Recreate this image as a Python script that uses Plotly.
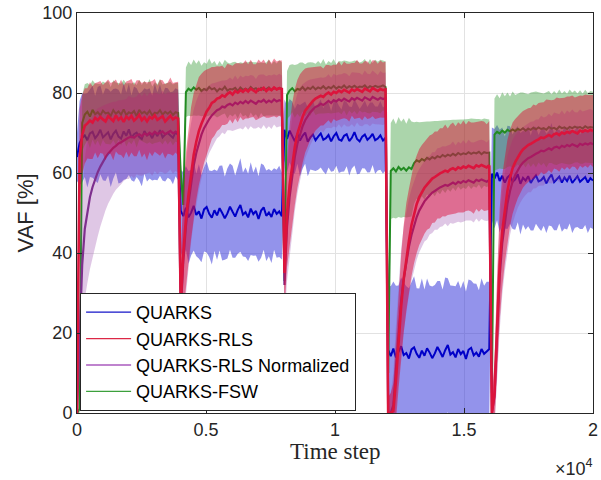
import numpy as np
import plotly.graph_objects as go

# Sampled VAF curves (every ~100 time steps), five 4000-step segments per method.
T_END = 20000
N_PER_SEG = 40

QUARKS_MEAN = [
    [64.0, 67.5, 68.8, 69.4, 68.2, 69.9, 70.3, 68.7, 69.5, 70.8,
     68.9, 69.6, 70.2, 68.4, 69.8, 70.6, 69.1, 68.6, 70.4, 69.3,
     70.9, 68.8, 69.7, 70.1, 69.0, 68.5, 70.5, 69.4, 69.9, 68.7,
     70.3, 69.2, 70.7, 68.9, 69.6, 70.0, 69.3, 68.8, 70.2, 69.5],
    [50.6, 49.2, 51.3, 48.9, 50.1, 51.8, 49.5, 50.4, 48.6, 50.9,
     51.5, 49.8, 48.8, 50.7, 49.4, 51.2, 50.0, 48.7, 49.9, 51.6,
     50.3, 49.1, 50.8, 52.0, 49.6, 50.2, 48.9, 51.1, 49.7, 50.5,
     48.5, 50.6, 51.4, 49.3, 50.1, 49.0, 51.0, 49.8, 50.4, 49.2],
    [70.8, 68.5, 70.6, 69.2, 67.9, 69.8, 68.1, 69.3, 70.1, 67.8,
     68.9, 69.6, 68.2, 69.1, 69.9, 68.3, 68.7, 69.5, 67.9, 69.2,
     70.0, 68.4, 68.1, 69.3, 69.7, 68.0, 68.8, 70.2, 68.5, 67.9,
     69.1, 69.6, 68.3, 68.9, 69.8, 68.2, 68.6, 69.4, 68.1, 68.8],
    [15.8, 14.2, 16.1, 13.9, 15.4, 16.7, 14.5, 15.0, 13.6, 15.9,
     16.4, 14.8, 13.8, 15.6, 14.3, 16.2, 15.1, 13.7, 14.9, 16.5,
     15.3, 14.0, 15.7, 17.0, 14.6, 15.2, 13.9, 16.0, 14.7, 15.5,
     13.5, 15.8, 16.3, 14.4, 15.1, 14.1, 16.0, 14.8, 15.4, 16.0],
    [59.8, 58.6, 60.1, 58.0, 59.3, 57.6, 58.9, 59.5, 57.8, 58.4,
     59.7, 57.3, 58.8, 58.1, 59.2, 57.5, 58.6, 59.4, 57.9, 58.2,
     59.0, 57.4, 58.7, 59.6, 57.7, 58.3, 59.1, 57.6, 58.9, 58.0,
     59.3, 57.5, 58.5, 59.2, 57.8, 58.4, 59.0, 57.6, 58.7, 58.1],
]
QUARKS_STD = [
    [6.0, 10.5, 11.2, 10.4, 11.8, 10.9, 11.5, 10.6, 12.0, 11.1,
     10.7, 11.6, 10.8, 11.9, 11.2, 10.5, 11.7, 11.0, 12.1, 10.8,
     11.4, 10.6, 11.9, 11.1, 10.9, 11.8, 10.7, 11.5, 11.3, 10.6,
     12.0, 11.0, 11.4, 10.8, 11.7, 11.2, 10.9, 11.6, 11.0, 11.3],
    [10.2, 11.0, 10.4, 11.6, 10.7, 11.2, 10.3, 11.8, 10.9, 10.5,
     11.4, 10.8, 11.7, 10.2, 11.1, 10.6, 11.9, 10.4, 11.3, 10.8,
     11.5, 10.3, 11.0, 11.7, 10.5, 11.2, 10.9, 11.6, 10.4, 11.1,
     10.7, 11.8, 10.6, 11.3, 10.9, 11.5, 10.2, 11.0, 11.4, 10.8],
    [7.6, 8.4, 7.9, 8.7, 8.1, 7.5, 8.9, 8.2, 7.8, 8.6,
     8.0, 8.8, 7.7, 8.3, 8.5, 7.9, 9.0, 8.1, 7.6, 8.7,
     8.2, 8.4, 7.8, 8.9, 8.0, 8.6, 7.7, 8.3, 8.8, 8.1,
     7.9, 8.5, 8.2, 8.7, 7.8, 8.4, 8.0, 8.6, 8.3, 8.1],
    [16.2, 17.5, 16.8, 17.9, 16.5, 17.2, 18.1, 16.7, 17.6, 16.9,
     17.8, 16.4, 17.3, 18.0, 16.6, 17.4, 16.8, 17.9, 17.1, 16.5,
     17.7, 16.9, 18.2, 16.7, 17.3, 16.6, 17.8, 17.0, 16.4, 17.5,
     16.9, 17.6, 16.8, 18.0, 17.2, 16.6, 17.7, 17.0, 17.4, 16.8],
    [11.6, 12.4, 11.9, 12.8, 12.1, 11.5, 12.9, 12.2, 11.8, 12.6,
     12.0, 12.7, 11.7, 12.3, 12.5, 11.9, 13.0, 12.1, 11.6, 12.7,
     12.2, 12.4, 11.8, 12.9, 12.0, 12.6, 11.7, 12.3, 12.8, 12.1,
     11.9, 12.5, 12.2, 12.7, 11.8, 12.4, 12.0, 12.6, 12.3, 12.1],
]

RLS_MEAN = [
    [0.0, 64.0, 69.5, 71.8, 72.4, 73.1, 72.6, 73.8, 73.2, 74.0,
     73.4, 72.9, 74.2, 73.6, 73.0, 74.4, 73.3, 73.9, 72.8, 74.1,
     73.5, 74.3, 73.1, 73.7, 74.5, 73.2, 73.9, 72.9, 74.0, 73.6,
     74.4, 73.3, 73.8, 74.2, 72.9, 73.7, 74.3, 73.4, 73.9, 73.6],
    [27.0, 40.0, 48.5, 54.5, 60.0, 64.5, 67.8, 70.5, 72.3, 74.0,
     75.4, 76.3, 77.5, 77.9, 78.6, 78.8, 79.4, 79.1, 79.8, 80.2,
     79.6, 80.5, 80.1, 80.7, 80.3, 80.9, 80.4, 81.1, 80.6, 80.2,
     81.0, 80.8, 81.3, 80.5, 81.1, 80.7, 81.4, 80.9, 81.2, 81.0],
    [35.0, 50.0, 57.0, 62.0, 66.5, 69.8, 72.2, 74.0, 75.6, 76.5,
     77.4, 78.0, 78.6, 78.9, 79.3, 79.0, 79.7, 80.1, 79.6, 80.3,
     80.0, 80.6, 80.2, 80.8, 80.4, 80.1, 80.9, 80.5, 81.0, 80.6,
     80.3, 81.1, 80.7, 80.4, 81.2, 80.8, 80.5, 81.0, 80.7, 80.9],
    [0.0, 0.0, 0.5, 8.0, 18.0, 26.5, 33.5, 39.0, 43.0, 47.0,
     50.0, 52.2, 54.0, 55.2, 56.3, 57.1, 57.8, 58.6, 59.0, 59.5,
     59.9, 60.2, 60.6, 60.3, 60.9, 61.2, 60.8, 61.4, 61.1, 61.6,
     61.3, 61.8, 61.5, 61.2, 61.9, 61.6, 62.0, 61.7, 61.4, 61.9],
    [0.0, 5.0, 22.0, 37.0, 45.5, 51.0, 55.5, 58.8, 61.2, 62.7,
     64.0, 65.0, 65.9, 66.5, 67.0, 67.3, 67.8, 68.1, 68.4, 68.9,
     68.7, 69.2, 69.5, 69.1, 69.7, 69.9, 69.5, 70.1, 69.8, 70.3,
     70.0, 70.5, 70.2, 69.9, 70.6, 70.3, 70.7, 70.4, 70.8, 70.5],
]
RLS_STD = [
    [2.0, 12.0, 10.0, 9.4, 8.8, 9.6, 9.1, 8.7, 9.5, 9.0,
     8.6, 9.7, 9.2, 8.9, 9.8, 9.0, 8.7, 9.4, 9.1, 8.8,
     9.6, 9.2, 8.9, 9.5, 8.7, 9.3, 9.0, 9.7, 8.8, 9.4,
     9.1, 8.6, 9.5, 9.0, 9.3, 8.9, 9.6, 9.1, 8.8, 9.2],
    [12.0, 15.0, 16.5, 17.0, 16.5, 15.5, 14.5, 13.5, 12.5, 11.5,
     10.5, 9.8, 9.0, 8.6, 8.1, 7.8, 7.4, 7.1, 7.5, 6.8,
     7.2, 6.9, 7.4, 6.7, 7.1, 7.3, 6.8, 7.2, 6.6, 7.0,
     7.4, 6.9, 7.1, 6.7, 7.3, 6.8, 7.2, 7.0, 6.9, 7.1],
    [10.0, 13.5, 15.0, 15.5, 14.5, 13.5, 12.5, 11.5, 10.5, 9.8,
     9.0, 8.5, 8.0, 7.7, 7.4, 7.1, 7.3, 6.9, 7.2, 6.8,
     7.0, 7.3, 6.7, 7.1, 6.9, 7.2, 6.6, 7.0, 7.3, 6.8,
     7.1, 6.9, 7.2, 6.7, 7.0, 7.3, 6.8, 7.1, 6.9, 7.0],
    [4.0, 5.0, 7.0, 10.0, 12.0, 13.0, 13.5, 13.5, 13.0, 12.8,
     12.5, 12.2, 12.0, 11.8, 11.5, 11.3, 11.6, 11.1, 11.4, 10.9,
     11.3, 11.0, 11.5, 10.8, 11.2, 11.4, 10.9, 11.3, 11.0, 11.5,
     10.8, 11.2, 11.1, 11.4, 10.9, 11.3, 11.0, 11.2, 10.8, 11.1],
    [4.0, 8.0, 12.0, 14.0, 14.0, 13.5, 12.8, 12.0, 11.4, 10.8,
     10.3, 9.9, 9.6, 9.4, 9.2, 9.0, 9.3, 8.8, 9.1, 8.7,
     9.0, 9.2, 8.8, 9.1, 8.6, 9.0, 9.2, 8.7, 9.0, 8.8,
     9.1, 8.9, 8.7, 9.2, 8.8, 9.0, 8.9, 9.1, 8.7, 9.0],
]

NORM_MEAN = [
    [0.0, 20.0, 37.0, 46.0, 50.5, 54.0, 56.5, 58.5, 60.2, 61.6,
     62.8, 63.9, 64.8, 65.6, 66.3, 66.8, 67.4, 67.7, 68.2, 68.5,
     68.9, 69.1, 68.8, 69.4, 69.7, 69.2, 69.9, 69.5, 70.1, 69.6,
     70.3, 69.8, 70.0, 70.4, 69.7, 70.2, 70.5, 69.9, 70.3, 70.1],
    [25.0, 38.0, 46.5, 52.5, 57.5, 61.8, 65.0, 67.6, 69.6, 71.2,
     72.4, 73.5, 74.4, 75.0, 75.7, 76.0, 76.6, 76.4, 77.0, 77.3,
     76.9, 77.6, 77.2, 77.8, 77.4, 78.0, 77.5, 78.1, 77.7, 77.3,
     78.0, 77.8, 78.3, 77.6, 78.1, 77.7, 78.4, 77.9, 78.2, 78.0],
    [32.0, 46.5, 54.0, 59.5, 64.0, 67.3, 69.8, 71.7, 73.2, 74.3,
     75.2, 75.9, 76.5, 76.8, 77.3, 77.0, 77.6, 78.0, 77.5, 78.2,
     77.9, 78.4, 78.0, 78.6, 78.2, 77.9, 78.7, 78.3, 78.8, 78.4,
     78.1, 78.9, 78.5, 78.2, 79.0, 78.6, 78.3, 78.8, 78.5, 78.7],
    [0.0, 0.0, 2.0, 11.0, 20.0, 28.0, 33.5, 38.0, 41.5, 44.5,
     47.0, 49.0, 50.6, 51.8, 52.9, 53.7, 54.4, 55.1, 55.5, 56.0,
     56.4, 56.7, 57.0, 56.8, 57.3, 57.6, 57.2, 57.8, 57.5, 58.0,
     57.7, 58.2, 57.9, 57.6, 58.3, 58.0, 58.4, 58.1, 57.8, 58.3],
    [0.0, 4.0, 20.0, 34.0, 42.5, 48.0, 52.3, 55.5, 57.9, 59.5,
     60.8, 61.8, 62.6, 63.2, 63.7, 64.0, 64.5, 64.8, 65.1, 65.6,
     65.4, 65.9, 66.2, 65.8, 66.4, 66.6, 66.2, 66.8, 66.5, 67.0,
     66.7, 67.2, 66.9, 66.6, 67.3, 67.0, 67.4, 67.1, 67.5, 67.2],
]
NORM_STD = [
    [0.0, 12.0, 16.0, 17.5, 18.0, 18.0, 17.5, 17.0, 16.0, 15.0,
     14.0, 13.2, 12.5, 12.0, 11.5, 11.0, 10.8, 10.5, 10.2, 10.0,
     10.4, 9.8, 10.1, 9.7, 10.3, 9.9, 10.2, 9.6, 10.0, 10.3,
     9.8, 10.1, 9.7, 10.2, 9.9, 10.0, 9.6, 10.1, 9.8, 10.0],
    [12.0, 15.0, 16.0, 16.0, 15.0, 14.0, 13.0, 12.0, 11.0, 10.0,
     9.0, 8.5, 8.0, 7.5, 7.0, 6.8, 6.5, 6.7, 6.3, 6.6,
     6.4, 6.8, 6.2, 6.6, 6.5, 6.3, 6.7, 6.4, 6.6, 6.2,
     6.5, 6.8, 6.3, 6.6, 6.4, 6.7, 6.3, 6.5, 6.6, 6.4],
    [10.0, 13.5, 14.5, 14.5, 13.5, 12.5, 11.5, 10.5, 9.5, 8.8,
     8.2, 7.6, 7.2, 6.9, 6.6, 6.8, 6.4, 6.7, 6.3, 6.6,
     6.5, 6.2, 6.7, 6.4, 6.6, 6.3, 6.5, 6.8, 6.2, 6.6,
     6.4, 6.7, 6.3, 6.5, 6.6, 6.4, 6.2, 6.7, 6.5, 6.4],
    [4.0, 5.0, 8.0, 11.0, 12.5, 13.0, 13.0, 12.5, 12.0, 11.5,
     11.0, 10.7, 10.4, 10.2, 10.0, 10.3, 9.8, 10.1, 9.7, 10.2,
     9.9, 10.0, 9.6, 10.1, 9.8, 10.3, 9.7, 10.0, 9.9, 10.2,
     9.6, 10.1, 9.8, 10.0, 9.7, 10.2, 9.9, 10.0, 9.8, 10.1],
    [4.0, 8.0, 12.0, 13.5, 13.0, 12.5, 12.0, 11.0, 10.5, 10.0,
     9.5, 9.2, 8.9, 8.7, 8.5, 8.8, 8.4, 8.6, 8.3, 8.7,
     8.5, 8.2, 8.6, 8.4, 8.7, 8.3, 8.5, 8.8, 8.2, 8.6,
     8.4, 8.7, 8.3, 8.5, 8.6, 8.4, 8.2, 8.7, 8.5, 8.4],
]

FSW_MEAN = [
    [0.0, 1.0, 72.5, 74.6, 75.3, 74.1, 75.8, 74.7, 75.2, 74.4,
     75.6, 74.9, 75.1, 74.3, 75.7, 74.8, 75.4, 74.6, 75.9, 74.5,
     75.2, 74.8, 75.5, 74.2, 75.8, 74.9, 75.3, 74.7, 75.6, 74.4,
     75.1, 74.9, 75.7, 74.6, 75.3, 74.8, 75.4, 74.5, 75.2, 75.0],
    [60.0, 52.0, 80.2, 81.1, 80.6, 81.4, 80.8, 81.3, 80.5, 81.0,
     80.7, 81.5, 80.9, 81.2, 80.4, 81.1, 80.8, 81.6, 80.6, 81.0,
     80.9, 81.3, 80.5, 81.4, 80.8, 81.1, 80.7, 81.5, 80.9, 81.2,
     80.6, 81.3, 80.8, 81.0, 81.4, 80.7, 81.2, 80.9, 81.3, 81.0],
    [33.0, 79.5, 80.6, 81.2, 80.4, 81.0, 80.8, 81.5, 80.7, 81.3,
     81.0, 81.6, 80.9, 81.4, 81.1, 81.7, 81.0, 81.5, 81.2, 81.8,
     81.1, 81.6, 81.3, 81.9, 81.2, 81.7, 81.4, 81.8, 81.3, 81.6,
     81.5, 81.9, 81.2, 81.7, 81.4, 81.8, 81.5, 81.6, 81.9, 81.5],
    [10.0, 60.5, 61.2, 60.4, 61.5, 60.8, 61.3, 60.6, 61.4, 61.0,
     62.5, 63.2, 62.8, 63.5, 63.1, 63.8, 63.4, 64.0, 63.6, 64.2,
     63.9, 64.5, 64.1, 64.6, 64.3, 64.8, 64.4, 65.0, 64.6, 64.9,
     64.7, 65.2, 64.8, 65.1, 64.9, 65.3, 64.7, 65.2, 65.0, 65.1],
    [5.0, 69.6, 70.3, 69.9, 70.6, 70.1, 70.8, 70.4, 70.9, 70.5,
     71.0, 70.7, 71.2, 70.6, 71.1, 70.8, 71.3, 70.9, 71.4, 71.0,
     71.2, 70.8, 71.5, 71.1, 71.3, 70.9, 71.6, 71.2, 71.4, 71.0,
     71.5, 71.2, 71.6, 71.3, 71.5, 71.1, 71.7, 71.3, 71.5, 71.4],
]
FSW_STD = [
    [0.0, 1.0, 7.0, 7.6, 7.2, 7.9, 7.4, 7.7, 7.1, 7.8,
     7.3, 7.6, 7.9, 7.2, 7.5, 7.8, 7.1, 7.7, 7.4, 7.9,
     7.3, 7.6, 7.2, 7.8, 7.5, 7.1, 7.7, 7.4, 7.9, 7.2,
     7.6, 7.3, 7.8, 7.5, 7.1, 7.7, 7.4, 7.6, 7.3, 7.5],
    [3.0, 3.0, 6.2, 6.8, 6.4, 7.0, 6.5, 6.9, 6.3, 6.7,
     6.6, 7.1, 6.4, 6.8, 6.5, 6.9, 6.2, 6.7, 7.0, 6.4,
     6.8, 6.5, 6.9, 6.3, 6.7, 6.6, 7.0, 6.4, 6.8, 6.5,
     6.9, 6.3, 6.7, 6.6, 7.0, 6.4, 6.8, 6.5, 6.9, 6.6],
    [3.0, 6.0, 6.4, 6.0, 6.6, 6.2, 6.8, 6.1, 6.5, 6.3,
     6.7, 6.0, 6.4, 6.6, 6.2, 6.8, 6.1, 6.5, 6.3, 6.7,
     6.0, 6.4, 6.6, 6.2, 6.8, 6.1, 6.5, 6.3, 6.7, 6.0,
     6.4, 6.6, 6.2, 6.8, 6.1, 6.5, 6.3, 6.7, 6.2, 6.4],
    [3.0, 12.0, 12.4, 11.8, 12.5, 12.0, 12.3, 11.7, 12.4, 11.9,
     10.2, 9.6, 9.9, 9.3, 9.7, 9.1, 9.5, 9.0, 9.4, 8.8,
     9.2, 8.7, 9.1, 8.6, 9.0, 8.5, 8.9, 8.4, 8.8, 8.5,
     8.7, 8.3, 8.8, 8.4, 8.6, 8.2, 8.7, 8.4, 8.5, 8.3],
    [3.0, 9.0, 9.4, 8.8, 9.6, 9.1, 9.3, 8.7, 9.5, 9.0,
     8.8, 9.4, 8.9, 9.2, 8.6, 9.3, 8.9, 9.5, 8.8, 9.1,
     8.7, 9.4, 9.0, 8.6, 9.2, 8.9, 9.3, 8.7, 9.1, 8.8,
     9.4, 8.9, 9.0, 8.6, 9.2, 8.8, 9.1, 8.7, 9.0, 8.9],
]

X_TICKS = [0, 5000, 10000, 15000, 20000]
X_TICK_TEXT = ["0", "0.5", "1", "1.5", "2"]
Y_TICKS = [0, 20, 40, 60, 80, 100]


def flat(segments):
    out = []
    for seg in segments:
        assert len(seg) == N_PER_SEG
        out.extend(seg)
    return np.array(out, dtype=float)


n_total = N_PER_SEG * len(QUARKS_MEAN)
time_step = np.linspace(0, T_END, n_total)

# Drawing order (back to front); legend order is set with legendrank.
methods = [
    dict(name="QUARKS", mean=QUARKS_MEAN, std=QUARKS_STD, rank=1,
         line="rgb(0,0,200)", band="rgba(40,40,215,0.5)", width=2.0),
    dict(name="QUARKS-FSW", mean=FSW_MEAN, std=FSW_STD, rank=4,
         line="rgb(34,139,34)", band="rgba(55,155,55,0.42)", width=2.0),
    dict(name="QUARKS-RLS Normalized", mean=NORM_MEAN, std=NORM_STD, rank=3,
         line="rgb(126,47,142)", band="rgba(150,70,170,0.3)", width=2.2),
    dict(name="QUARKS-RLS", mean=RLS_MEAN, std=RLS_STD, rank=2,
         line="rgb(220,20,60)", band="rgba(222,0,44,0.45)", width=2.6),
]
legend_colors = {
    "QUARKS": "rgb(20,20,200)",
    "QUARKS-RLS": "rgb(220,40,70)",
    "QUARKS-RLS Normalized": "rgb(170,90,190)",
    "QUARKS-FSW": "rgb(60,160,60)",
}

fig = go.Figure()
for m in methods:
    mean = flat(m["mean"])
    std = flat(m["std"])
    upper = mean + std
    lower = mean - std
    fig.add_trace(go.Scatter(
        x=np.concatenate([time_step, time_step[::-1]]),
        y=np.concatenate([upper, lower[::-1]]),
        mode="lines", fill="toself", fillcolor=m["band"],
        line=dict(width=0), hoverinfo="skip", showlegend=False,
    ))
    fig.add_trace(go.Scatter(
        x=time_step, y=mean, mode="lines",
        line=dict(color=m["line"], width=m["width"]),
        name=m["name"], showlegend=False,
    ))

# Thin legend keys
for m in methods:
    fig.add_trace(go.Scatter(
        x=[None], y=[None], mode="lines", name=m["name"],
        line=dict(color=legend_colors[m["name"]], width=1.3),
        legendrank=m["rank"], showlegend=True,
    ))

axis_color = "#262626"
grid_color = "#E2E2E2"
tick_font = dict(family="Liberation Sans, Arial, sans-serif", size=18, color=axis_color)

fig.update_xaxes(
    range=[0, T_END], tickvals=X_TICKS, ticktext=X_TICK_TEXT,
    showgrid=True, gridcolor=grid_color, gridwidth=1, zeroline=False,
    showline=True, linecolor=axis_color, linewidth=1, mirror="ticks",
    ticks="inside", ticklen=5, tickcolor=axis_color, tickfont=tick_font,
    ticklabeloverflow="allow",
)
fig.update_yaxes(
    range=[0, 100], tickvals=Y_TICKS,
    showgrid=True, gridcolor=grid_color, gridwidth=1, zeroline=False,
    showline=True, linecolor=axis_color, linewidth=1, mirror="ticks",
    ticks="inside", ticklen=5, tickcolor=axis_color, tickfont=tick_font,
)

fig.update_layout(
    width=601, height=480,
    margin=dict(l=77, r=3, t=12, b=67),
    paper_bgcolor="white", plot_bgcolor="white",
    showlegend=True,
    legend=dict(
        x=0.006, y=0.005, xanchor="left", yanchor="bottom",
        bgcolor="white", bordercolor=axis_color, borderwidth=1,
        font=dict(family="Liberation Sans, Arial, sans-serif", size=18, color="black"),
        itemwidth=45, tracegroupgap=0,
    ),
    annotations=[
        dict(text="Time step", xref="paper", yref="paper", x=0.5, y=-0.097,
             xanchor="center", yanchor="middle", showarrow=False,
             font=dict(family="Liberation Serif, serif", size=23, color=axis_color)),
        dict(text="VAF [%]", xref="paper", yref="paper", x=-0.1, y=0.5,
             xanchor="center", yanchor="middle", showarrow=False, textangle=-90,
             font=dict(family="Liberation Sans, Arial, sans-serif", size=22, color=axis_color)),
        dict(text="\u00d710<sup>4</sup>", xref="paper", yref="paper", x=1.004, y=-0.135,
             xanchor="right", yanchor="middle", showarrow=False,
             font=dict(family="Liberation Sans, Arial, sans-serif", size=18, color=axis_color)),
    ],
)

fig.write_html("out.html")
